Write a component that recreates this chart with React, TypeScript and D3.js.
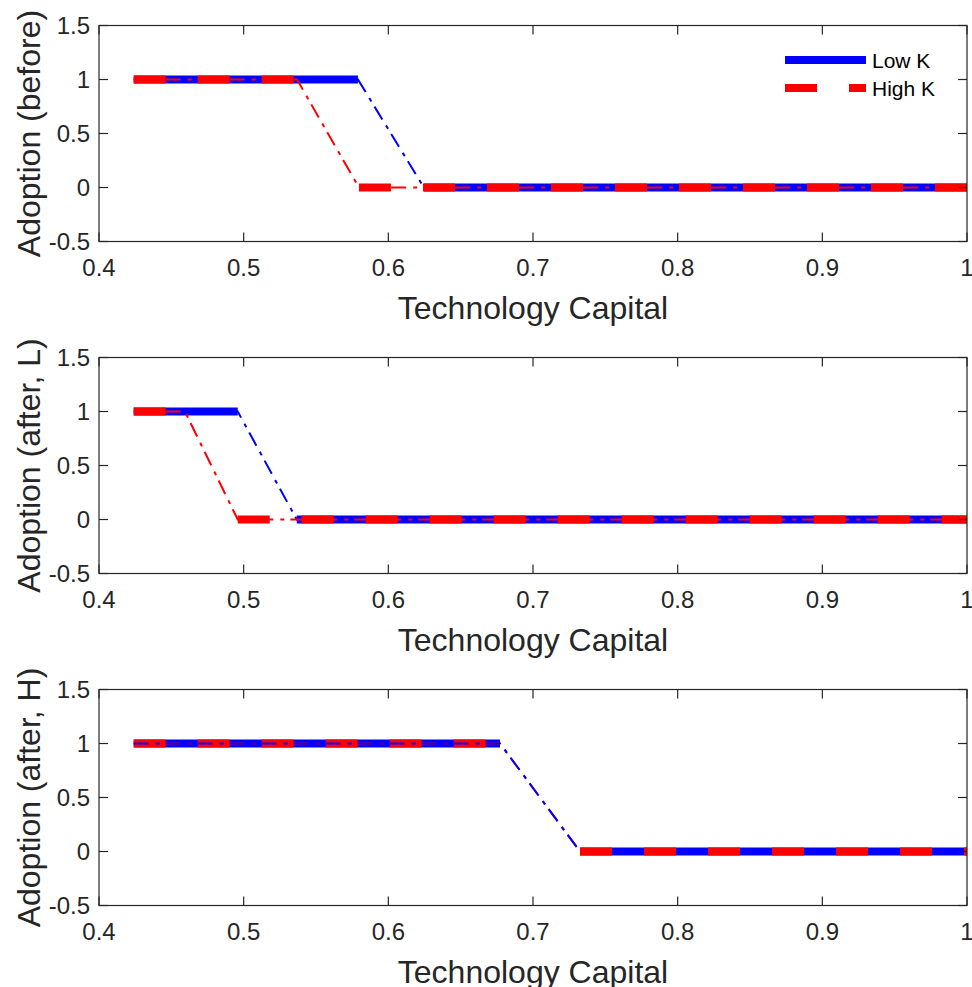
import React from "react";
import * as d3 from "d3";

// ---- data ----
const xTicks = [0.4, 0.5, 0.6, 0.7, 0.8, 0.9, 1];
const yTicks = [-0.5, 0, 0.5, 1, 1.5];
const xTickLabels = ["0.4", "0.5", "0.6", "0.7", "0.8", "0.9", "1"];
const yTickLabels = ["-0.5", "0", "0.5", "1", "1.5"];
const yTitles = ["Adoption (before)", "Adoption (after, L)", "Adoption (after, H)"];
const xTitle = "Technology Capital";
const seriesNames = ["Low K", "High K"];

const xStart = 0.424;
const xEnd = 1;
// Low K: adoption = 1 until drop start, 0 after drop end
const lowDropStart = [0.579, 0.4959, 0.6772];
const lowDropEnd = [0.6246, 0.5367, 0.7325];
// High K
const highDropStart = [0.5369, 0.4594, 0.6772];
const highDropEnd = [0.5797, 0.4959, 0.7325];
// extent of the thin dash-dot trace per panel
const lowThinEnd = [1, 1, 0.7325];
const highThinEnd = [1, 1, 0.7325];
// drawing order per panel
const layerOrder = [
  ["lowThick", "lowThin", "highThick", "highThin"],
  ["lowThick", "lowThin", "highThick", "highThin"],
  ["lowThick", "highThick", "highThin", "lowThin"],
];

const W = 972;
const H = 987;
const LEFT = 99;
const RIGHT = 967;
const PANEL_TOPS = [25.5, 357.5, 689.5];
const PANEL_H = 216;
const AXIS_COLOR = "#262626";
const FONT = "'Liberation Sans', Arial, Helvetica, sans-serif";
const BLUE = "#0000ff";
const RED = "#ff0000";
const THICK = 8;
const THIN = 2;
const DASH = "32,32";
const DASHDOT = "15,7,4,6";

function trace(x0: number, d0: number, d1: number, x1: number, thinEnd: number) {
  const pts: [number, number][] = [
    [x0, 1],
    [d0, 1],
    [d1, 0],
  ];
  if (thinEnd > d1) pts.push([thinEnd, 0]);
  return pts;
}

function Panel({ i }: { i: number }) {
  const top = PANEL_TOPS[i];
  const x = d3.scaleLinear().domain([0.4, 1]).range([LEFT, RIGHT]);
  const y = d3.scaleLinear().domain([-0.5, 1.5]).range([top + PANEL_H, top]);
  const line = d3
    .line<[number, number]>()
    .x((d) => x(d[0]))
    .y((d) => y(d[1]));

  const thickSegs = (d0: number, d1: number) => [
    [
      [xStart, 1],
      [d0, 1],
    ] as [number, number][],
    [
      [d1, 0],
      [xEnd, 0],
    ] as [number, number][],
  ];

  const layers: Record<string, React.ReactNode> = {
    lowThick: (
      <g key="lowThick">
        {thickSegs(lowDropStart[i], lowDropEnd[i]).map((s, k) => (
          <path key={k} d={line(s) || ""} fill="none" stroke={BLUE} strokeWidth={THICK} />
        ))}
      </g>
    ),
    highThick: (
      <g key="highThick">
        {thickSegs(highDropStart[i], highDropEnd[i]).map((s, k) => (
          <path
            key={k}
            d={line(s) || ""}
            fill="none"
            stroke={RED}
            strokeWidth={THICK}
            strokeDasharray={DASH}
          />
        ))}
      </g>
    ),
    lowThin: (
      <path
        key="lowThin"
        d={line(trace(xStart, lowDropStart[i], lowDropEnd[i], xEnd, lowThinEnd[i])) || ""}
        fill="none"
        stroke={BLUE}
        strokeWidth={THIN}
        strokeDasharray={DASHDOT}
      />
    ),
    highThin: (
      <path
        key="highThin"
        d={line(trace(xStart, highDropStart[i], highDropEnd[i], xEnd, highThinEnd[i])) || ""}
        fill="none"
        stroke={RED}
        strokeWidth={THIN}
        strokeDasharray={DASHDOT}
      />
    ),
  };

  const tickLen = 9;
  const bottom = top + PANEL_H;
  const cy = top + PANEL_H / 2;

  return (
    <g>
      {layerOrder[i].map((k) => layers[k])}
      {/* box */}
      <rect
        x={LEFT}
        y={top}
        width={RIGHT - LEFT}
        height={PANEL_H}
        fill="none"
        stroke={AXIS_COLOR}
        strokeWidth={1.2}
      />
      {/* x ticks */}
      {xTicks.map((t, k) => (
        <g key={"xt" + k}>
          <line x1={x(t)} x2={x(t)} y1={bottom} y2={bottom - tickLen} stroke={AXIS_COLOR} strokeWidth={1.2} />
          <line x1={x(t)} x2={x(t)} y1={top} y2={top + tickLen} stroke={AXIS_COLOR} strokeWidth={1.2} />
          <text
            x={x(t)}
            y={bottom + 17}
            dy="0.71em"
            textAnchor="middle"
            fontFamily={FONT}
            fontSize={24}
            fill={AXIS_COLOR}
          >
            {xTickLabels[k]}
          </text>
        </g>
      ))}
      {/* y ticks */}
      {yTicks.map((t, k) => (
        <g key={"yt" + k}>
          <line x1={LEFT} x2={LEFT + tickLen} y1={y(t)} y2={y(t)} stroke={AXIS_COLOR} strokeWidth={1.2} />
          <line x1={RIGHT} x2={RIGHT - tickLen} y1={y(t)} y2={y(t)} stroke={AXIS_COLOR} strokeWidth={1.2} />
          <text
            x={LEFT - 9}
            y={y(t)}
            dy="0.36em"
            textAnchor="end"
            fontFamily={FONT}
            fontSize={24}
            fill={AXIS_COLOR}
          >
            {yTickLabels[k]}
          </text>
        </g>
      ))}
      {/* x title */}
      <text
        x={(LEFT + RIGHT) / 2}
        y={bottom + 77}
        textAnchor="middle"
        fontFamily={FONT}
        fontSize={32}
        fill={AXIS_COLOR}
      >
        {xTitle}
      </text>
      {/* y title */}
      <text
        transform={`translate(40,${cy}) rotate(-90)`}
        textAnchor="middle"
        fontFamily={FONT}
        fontSize={32}
        fill={AXIS_COLOR}
      >
        {yTitles[i]}
      </text>
    </g>
  );
}

function Legend() {
  const lx0 = 785;
  const lx1 = 866;
  const rows = [60, 88];
  return (
    <g>
      <line x1={lx0} x2={lx1} y1={rows[0]} y2={rows[0]} stroke={BLUE} strokeWidth={THICK} />
      <line
        x1={lx0}
        x2={lx1}
        y1={rows[1]}
        y2={rows[1]}
        stroke={RED}
        strokeWidth={THICK}
        strokeDasharray={DASH}
      />
      {seriesNames.map((n, k) => (
        <text
          key={n}
          x={872}
          y={rows[k]}
          dy="0.36em"
          fontFamily={FONT}
          fontSize={21}
          fill="#000"
        >
          {n}
        </text>
      ))}
    </g>
  );
}

export default function App() {
  return (
    <svg
      width={W}
      height={H}
      style={{ position: "absolute", left: 0, top: 0, background: "#fff" }}
    >
      <rect x={0} y={0} width={W} height={H} fill="#fff" />
      {[0, 1, 2].map((i) => (
        <Panel key={i} i={i} />
      ))}
      <Legend />
    </svg>
  );
}
